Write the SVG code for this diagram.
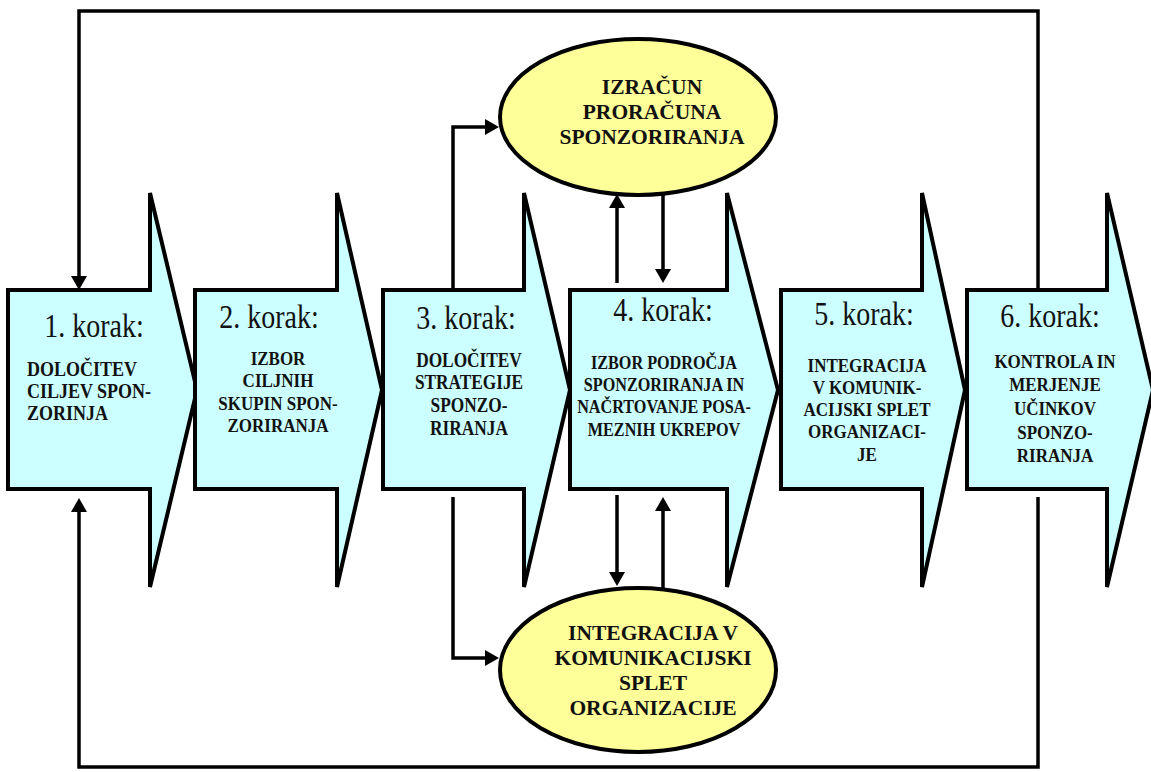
<svg xmlns="http://www.w3.org/2000/svg" width="1151" height="772" viewBox="0 0 1151 772">
<style>
.step{fill:#CCFFFF;stroke:#000;stroke-width:4;stroke-linejoin:miter}
.ell{fill:#FFFF99;stroke:#000;stroke-width:4}
.conn{fill:none;stroke:#000;stroke-width:3.5}
.k{font-family:"Liberation Serif",serif;font-size:28px;text-anchor:middle;fill:#111}
.b{font-family:"Liberation Serif",serif;font-weight:bold;text-anchor:middle;fill:#111}
</style>
<defs>
<marker id="ah" markerUnits="userSpaceOnUse" markerWidth="16" markerHeight="16" refX="10" refY="8" orient="auto">
<path d="M0,0 L14,8 L0,16 Z" fill="#000"/>
</marker>
</defs>
<rect width="1151" height="772" fill="#fff"/>

<g id="step1">
<path class="step" d="M8,290 H150 V193 L197,390 L150,587 V489 H8 Z"/>
<text class="k" transform="translate(94,337) scale(1,1.18)">1. korak:</text>
<g class="b" font-size="18">
<text transform="translate(27,376) scale(1,1.15)" style="text-anchor:start">DOLOČITEV</text>
<text transform="translate(27,398) scale(1,1.15)" style="text-anchor:start">CILJEV SPON-</text>
<text transform="translate(27,420) scale(1,1.15)" style="text-anchor:start">ZORINJA</text>
</g>
</g>

<g id="step2">
<path class="step" d="M195,290 H337 V193 L382,390 L337,587 V489 H195 Z"/>
<text class="k" transform="translate(269,328) scale(1,1.18)">2. korak:</text>
<g class="b" font-size="17">
<text transform="translate(278,365) scale(1,1.15)">IZBOR</text>
<text transform="translate(278,387) scale(1,1.15)">CILJNIH</text>
<text transform="translate(278,410) scale(1,1.15)">SKUPIN SPON-</text>
<text transform="translate(278,432) scale(1,1.15)">ZORIRANJA</text>
</g>
</g>

<g id="step3">
<path class="step" d="M383,290 H524 V193 L570,390 L524,587 V489 H383 Z"/>
<text class="k" transform="translate(466,329) scale(1,1.18)">3. korak:</text>
<g class="b" font-size="17.3">
<text transform="translate(469,367) scale(1,1.15)">DOLOČITEV</text>
<text transform="translate(469,389) scale(1,1.15)">STRATEGIJE</text>
<text transform="translate(469,412) scale(1,1.15)">SPONZO-</text>
<text transform="translate(469,435) scale(1,1.15)">RIRANJA</text>
</g>
</g>

<g id="step4">
<path class="step" d="M570,290 H727 V193 L778,390 L727,587 V489 H570 Z"/>
<text class="k" transform="translate(663,321) scale(1,1.18)">4. korak:</text>
<g class="b" font-size="16.2">
<text transform="translate(664,369) scale(1,1.15)">IZBOR PODROČJA</text>
<text transform="translate(664,391) scale(1,1.15)">SPONZORIRANJA IN</text>
<text transform="translate(664,413) scale(1,1.15)">NAČRTOVANJE POSA-</text>
<text transform="translate(664,436) scale(1,1.15)">MEZNIH UKREPOV</text>
</g>
</g>

<g id="step5">
<path class="step" d="M781,290 H922 V193 L965,390 L922,587 V489 H781 Z"/>
<text class="k" transform="translate(864,325) scale(1,1.18)">5. korak:</text>
<g class="b" font-size="17">
<text transform="translate(867,372) scale(1,1.15)">INTEGRACIJA</text>
<text transform="translate(867,394) scale(1,1.15)">V KOMUNIK-</text>
<text transform="translate(867,416) scale(1,1.15)">ACIJSKI SPLET</text>
<text transform="translate(867,438) scale(1,1.15)">ORGANIZACI-</text>
<text transform="translate(867,461) scale(1,1.15)">JE</text>
</g>
</g>

<g id="step6">
<path class="step" d="M967,290 H1107 V193 L1153,390 L1107,587 V489 H967 Z"/>
<text class="k" transform="translate(1050,327) scale(1,1.18)">6. korak:</text>
<g class="b" font-size="17">
<text transform="translate(1055,368) scale(1,1.15)">KONTROLA IN</text>
<text transform="translate(1055,391) scale(1,1.15)">MERJENJE</text>
<text transform="translate(1055,415) scale(1,1.15)">UČINKOV</text>
<text transform="translate(1055,439) scale(1,1.15)">SPONZO-</text>
<text transform="translate(1055,462) scale(1,1.15)">RIRANJA</text>
</g>
</g>

<g id="connectors">
<path class="conn" d="M1038,290 V11 H79 V286" marker-end="url(#ah)"/>
<path class="conn" d="M1038,497 V767 H79 V502" marker-end="url(#ah)"/>
<path class="conn" d="M453,290 V127 H495" marker-end="url(#ah)"/>
<path class="conn" d="M453,497 V658 H495" marker-end="url(#ah)"/>
<path class="conn" d="M617,283 V198" marker-end="url(#ah)"/>
<path class="conn" d="M663,194 V279" marker-end="url(#ah)"/>
<path class="conn" d="M617,495 V582" marker-end="url(#ah)"/>
<path class="conn" d="M663,589 V501" marker-end="url(#ah)"/>
</g>

<g id="ellipse-top">
<ellipse class="ell" cx="638" cy="117" rx="138" ry="78"/>
<g class="b" font-size="21.5">
<text x="652" y="94">IZRAČUN</text>
<text x="652" y="119">PRORAČUNA</text>
<text x="652" y="144">SPONZORIRANJA</text>
</g>
</g>

<g id="ellipse-bottom">
<ellipse class="ell" cx="638" cy="670" rx="138" ry="82"/>
<g class="b" font-size="21.5">
<text x="653" y="640">INTEGRACIJA V</text>
<text x="653" y="665">KOMUNIKACIJSKI</text>
<text x="653" y="690">SPLET</text>
<text x="653" y="715">ORGANIZACIJE</text>
</g>
</g>
</svg>
